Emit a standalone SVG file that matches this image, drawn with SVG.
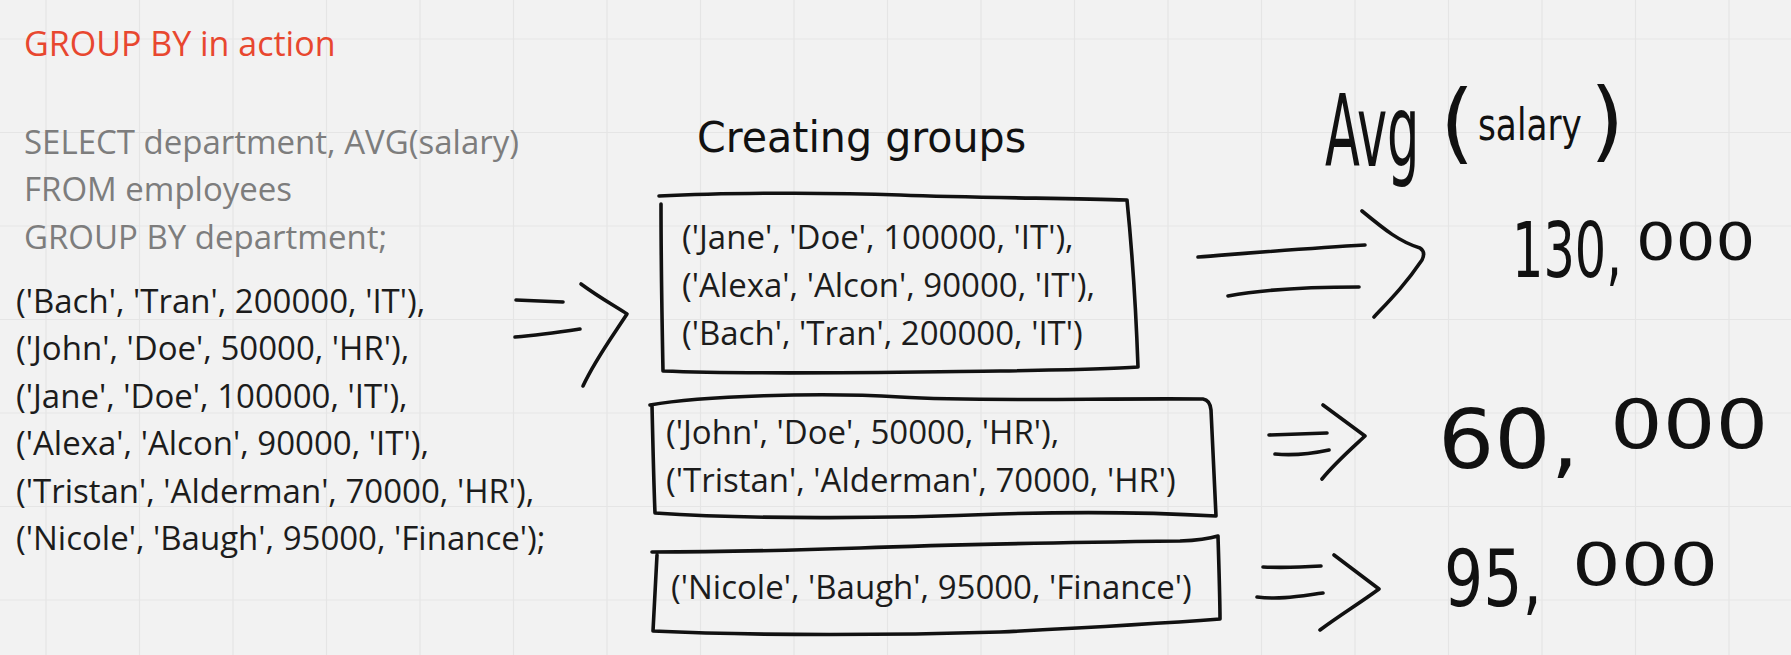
<svg xmlns="http://www.w3.org/2000/svg" width="1791" height="655" viewBox="0 0 1791 655">
<style>
.bg{fill:#f2f2f2}
.grid{stroke:#e5e5e5;stroke-width:1.2;fill:none}
.title{font-family:"Open Sans","Liberation Sans",sans-serif;font-size:34px;fill:#e8472f}
.sql{font-family:"Open Sans","Liberation Sans",sans-serif;font-size:33px;fill:#7d7d7d}
.row{font-family:"Open Sans","Liberation Sans",sans-serif;font-size:33px;fill:#1c1c1c}
.hand{font-family:"DejaVu Sans","Liberation Sans",sans-serif;fill:#111}
.pen{fill:none;stroke:#111;stroke-width:3.6;stroke-linecap:round;stroke-linejoin:round}
</style>
<rect class="bg" x="0" y="0" width="1791" height="655"/>
<path class="grid" d="M46 0V655M139.5 0V655M233 0V655M326.5 0V655M420 0V655M513.5 0V655M607 0V655M700.5 0V655M794 0V655M887.5 0V655M981 0V655M1074.5 0V655M1168 0V655M1261.5 0V655M1355 0V655M1448.5 0V655M1542 0V655M1635.5 0V655M1729 0V655M0 39H1791M0 132.5H1791M0 226H1791M0 319.5H1791M0 413H1791M0 506.5H1791M0 600H1791"/>

<g id="title"><text class="title" x="24" y="56">GROUP BY in action</text></g>

<g id="sql">
<text class="sql" x="24" y="154">SELECT department, AVG(salary)</text>
<text class="sql" x="24" y="201">FROM employees</text>
<text class="sql" x="24" y="249">GROUP BY department;</text>
</g>

<g id="source-rows">
<text class="row" x="16" y="313">('Bach', 'Tran', 200000, 'IT'),</text>
<text class="row" x="16" y="360">('John', 'Doe', 50000, 'HR'),</text>
<text class="row" x="16" y="408">('Jane', 'Doe', 100000, 'IT'),</text>
<text class="row" x="16" y="455">('Alexa', 'Alcon', 90000, 'IT'),</text>
<text class="row" x="16" y="503">('Tristan', 'Alderman', 70000, 'HR'),</text>
<text class="row" x="16" y="550">('Nicole', 'Baugh', 95000, 'Finance');</text>
</g>

<g id="label-creating-groups">
<text class="hand" font-size="42" transform="translate(697,152) scale(0.98,1)">Creating groups</text>
</g>

<g id="group-it">
<path class="pen" d="M659,196 C720,193 820,192 900,195 C980,198 1060,198 1127,200 M661,204 C661,260 662,320 663,371 C760,375 900,372 1000,371 C1060,370 1110,369 1138,367 M1127,200 C1132,250 1136,310 1138,367"/>
<text class="row" x="682" y="249">('Jane', 'Doe', 100000, 'IT'),</text>
<text class="row" x="682" y="297">('Alexa', 'Alcon', 90000, 'IT'),</text>
<text class="row" x="682" y="345">('Bach', 'Tran', 200000, 'IT')</text>
</g>

<g id="group-hr">
<path class="pen" d="M650,405 C700,396 820,392 900,397 C980,402 1100,398 1203,399 Q1210,400 1211,410 C1213,450 1215,490 1216,516 M652,405 C653,450 654,490 655,513 C760,520 900,518 1000,514 C1100,511 1180,514 1216,516"/>
<text class="row" x="666" y="444">('John', 'Doe', 50000, 'HR'),</text>
<text class="row" x="666" y="492">('Tristan', 'Alderman', 70000, 'HR')</text>
</g>

<g id="group-finance">
<path class="pen" d="M652,552 C720,552 800,550 860,548 C960,544 1100,542 1180,541 Q1205,540 1218,536 C1219,570 1220,600 1220,619 C1180,622 1100,627 1000,632 C900,635 760,636 653,631 M657,555 C655,590 654,612 653,631"/>
<text class="row" x="671" y="599">('Nicole', 'Baugh', 95000, 'Finance')</text>
</g>

<g id="label-avg-salary">
<text class="hand" font-size="100" transform="translate(1325,166) scale(0.51,1)">Avg</text>
<text class="hand" font-size="88" x="1440" y="152">(</text>
<text class="hand" font-size="44" transform="translate(1478,140) scale(0.78,1)">salary</text>
<text class="hand" font-size="88" x="1590" y="150">)</text>
</g>

<g id="result-it">
<text class="hand" font-size="76" transform="translate(1512,277) scale(0.65,1)">130,</text>
<text class="hand" font-size="52" transform="translate(1636,260) scale(1.2,1)">000</text>
</g>

<g id="result-hr">
<text class="hand" font-size="82" transform="translate(1438,468) scale(1.08,1)">60,</text>
<text class="hand" font-size="68" transform="translate(1610,448) scale(1.22,1)">000</text>
</g>

<g id="result-finance">
<text class="hand" font-size="78" transform="translate(1444,606) scale(0.79,1)">95,</text>
<text class="hand" font-size="58" transform="translate(1572,585) scale(1.32,1)">000</text>
</g>

<g id="connectors">
<path class="pen" d="M516,300 L563,302 M515,337 C540,335 560,332 580,329 M581,284 C600,298 615,306 627,314 C610,340 595,360 583,386"/>
<path class="pen" d="M1198,257 C1250,253 1310,248 1365,245 M1228,296 C1260,290 1310,287 1359,287 M1362,211 C1385,230 1400,242 1420,248 Q1426,252 1422,260 C1405,285 1390,300 1374,317"/>
<path class="pen" d="M1269,435 L1327,433 M1275,454 C1295,456 1315,453 1329,450 M1323,405 L1365,436 C1350,450 1335,463 1322,479"/>
<path class="pen" d="M1263,567 C1285,568 1305,567 1321,566 M1257,597 C1280,600 1300,596 1323,593 M1334,555 L1379,589 C1360,603 1340,615 1320,630"/>
</g>
</svg>
